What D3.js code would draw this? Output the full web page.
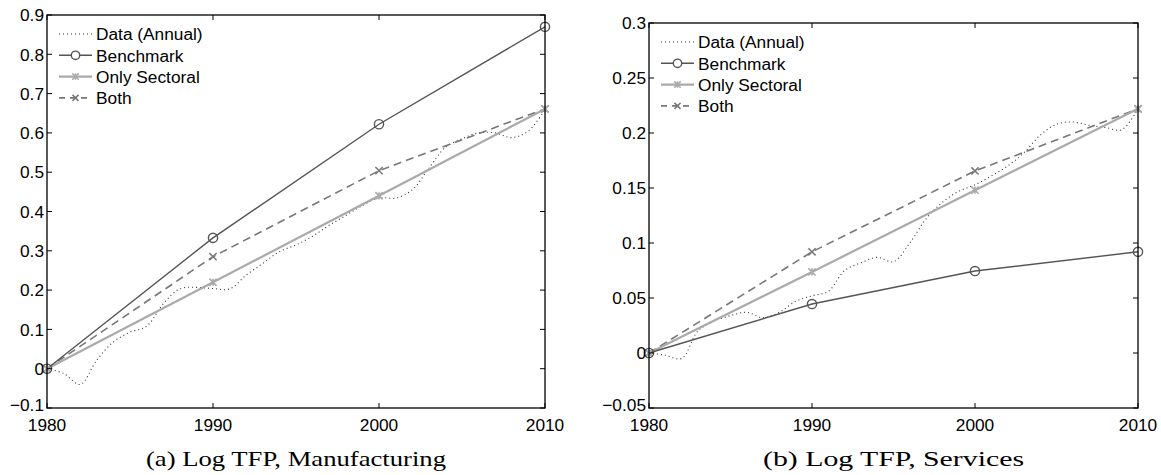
<!DOCTYPE html>
<html><head><meta charset="utf-8">
<script src="https://cdn.jsdelivr.net/npm/d3@7"></script>
<style>
body{margin:0;background:#fff;}
svg text{font-family:"Liberation Sans",Arial,Helvetica,sans-serif;}
</style></head>
<body><svg id="c" width="1161" height="475"></svg>
<script>
// ---------- data ----------
const decades = [1980, 1990, 2000, 2010];
const years = d3.range(1980, 2011);

const mfgAnnual = [0, -0.012, -0.04, 0.022, 0.068, 0.093, 0.108, 0.165, 0.203, 0.207, 0.204,
  0.203, 0.238, 0.268, 0.298, 0.315, 0.337, 0.365, 0.39, 0.415, 0.435,
  0.434, 0.455, 0.51, 0.563, 0.585, 0.6, 0.6, 0.588, 0.605, 0.66];
const mfgBenchmark = [0, 0.333, 0.622, 0.870];
const mfgSectoral = [0, 0.220, 0.440, 0.661];
const mfgBoth = [0, 0.285, 0.504, 0.661];

const svcAnnual = [0, -0.002, -0.005, 0.02, 0.029, 0.034, 0.037, 0.032, 0.037, 0.047, 0.052,
  0.056, 0.075, 0.082, 0.087, 0.083, 0.1, 0.122, 0.137, 0.147, 0.153,
  0.161, 0.17, 0.182, 0.198, 0.208, 0.21, 0.207, 0.205, 0.203, 0.222];
const svcBenchmark = [0, 0.0445, 0.0745, 0.092];
const svcSectoral = [0, 0.0737, 0.148, 0.222];
const svcBoth = [0, 0.092, 0.1655, 0.222];

const mfgYTicks = [-0.1, 0, 0.1, 0.2, 0.3, 0.4, 0.5, 0.6, 0.7, 0.8, 0.9];
const svcYTicks = [-0.05, 0, 0.05, 0.1, 0.15, 0.2, 0.25, 0.3];
const xTicks = [1980, 1990, 2000, 2010];
const legendLabels = ["Data (Annual)", "Benchmark", "Only Sectoral", "Both"];
const captions = ["(a) Log TFP, Manufacturing", "(b) Log TFP, Services"];

// ---------- styles ----------
const st = {
  data: {color: "#333", width: 1.1, dash: "1,3"},
  bench: {color: "#555", width: 1.4, dash: null},
  sect: {color: "#aaa", width: 2.2, dash: null},
  both: {color: "#777", width: 1.6, dash: "8,5"}
};
const FS = 17.3;

const svg = d3.select("#c");

function fmt(v) {
  if (Math.abs(v) < 1e-9) return "0";
  let s = String(+v.toFixed(2));
  return s.replace("-", "\u2212");
}

function panel(cfg) {
  const x = d3.scaleLinear().domain([1980, 2010]).range([cfg.x0, cfg.x1]);
  const y = d3.scaleLinear().domain(cfg.ydom).range([cfg.y1, cfg.y0]);
  const g = svg.append("g");
  const tl = 5;

  const line = d3.line().x(d => x(d[0])).y(d => y(d[1]));
  const smooth = d3.line().x(d => x(d[0])).y(d => y(d[1])).curve(d3.curveCatmullRom);

  function draw(gen, pts, s) {
    g.append("path").attr("d", gen(pts)).attr("fill", "none")
      .attr("stroke", s.color).attr("stroke-width", s.width)
      .attr("stroke-dasharray", s.dash);
  }
  draw(smooth, years.map((yr, i) => [yr, cfg.annual[i]]), st.data);
  draw(line, decades.map((d, i) => [d, cfg.both[i]]), st.both);
  draw(line, decades.map((d, i) => [d, cfg.sect[i]]), st.sect);
  draw(line, decades.map((d, i) => [d, cfg.bench[i]]), st.bench);

  function xmark(cx, cy, color, w, r) {
    g.append("path").attr("d", `M${cx-r},${cy-r}L${cx+r},${cy+r}M${cx-r},${cy+r}L${cx+r},${cy-r}`)
      .attr("stroke", color).attr("stroke-width", w).attr("fill", "none");
  }
  function star(cx, cy, color, w, r) {
    xmark(cx, cy, color, w, r);
    g.append("path").attr("d", `M${cx},${cy-r}L${cx},${cy+r}`)
      .attr("stroke", color).attr("stroke-width", w);
  }
  decades.forEach((d, i) => {
    xmark(x(d), y(cfg.both[i]), st.both.color, 1.5, 3.6);
    star(x(d), y(cfg.sect[i]), st.sect.color, 1.6, 3.6);
    g.append("circle").attr("cx", x(d)).attr("cy", y(cfg.bench[i])).attr("r", 4.6)
      .attr("fill", "none").attr("stroke", st.bench.color).attr("stroke-width", 1.4);
  });

  // frame
  g.append("rect").attr("x", cfg.x0).attr("y", cfg.y0)
    .attr("width", cfg.x1 - cfg.x0).attr("height", cfg.y1 - cfg.y0)
    .attr("fill", "none").attr("stroke", "#000").attr("stroke-width", 1.3);

  cfg.yticks.forEach((v, k) => {
    const yy = y(v);
    g.append("line").attr("x1", cfg.x0).attr("x2", cfg.x0 + tl).attr("y1", yy).attr("y2", yy).attr("stroke", "#000");
    g.append("line").attr("x1", cfg.x1).attr("x2", cfg.x1 - tl).attr("y1", yy).attr("y2", yy).attr("stroke", "#000");
    g.append("text").attr("x", cfg.x0 - 3).attr("y", yy - (k === 0 ? 3.5 : 0)).attr("dy", "0.36em")
      .attr("text-anchor", "end").attr("font-size", FS).text(fmt(v));
  });
  xTicks.forEach(v => {
    const xx = x(v);
    g.append("line").attr("x1", xx).attr("x2", xx).attr("y1", cfg.y1).attr("y2", cfg.y1 - tl).attr("stroke", "#000");
    g.append("line").attr("x1", xx).attr("x2", xx).attr("y1", cfg.y0).attr("y2", cfg.y0 + tl).attr("stroke", "#000");
    g.append("text").attr("x", xx).attr("y", cfg.y1 + 22.5)
      .attr("text-anchor", "middle").attr("font-size", FS).text(v);
  });

  const lstyles = [st.data, st.bench, st.sect, st.both];
  legendLabels.forEach((lab, i) => {
    const ly = cfg.ly + i * 21.3;
    const s = lstyles[i];
    const lx0 = cfg.lx, lx1 = cfg.lx + 33;
    g.append("line").attr("x1", lx0).attr("x2", lx1).attr("y1", ly).attr("y2", ly)
      .attr("stroke", s.color).attr("stroke-width", s.width).attr("stroke-dasharray", i === 3 ? "6,5" : s.dash);
    const mx = (lx0 + lx1) / 2;
    if (i === 1) g.append("circle").attr("cx", mx).attr("cy", ly).attr("r", 4.2).attr("fill", "#fff")
      .attr("stroke", s.color).attr("stroke-width", 1.4);
    if (i === 2) star(mx, ly, s.color, 1.6, 3.2);
    if (i === 3) xmark(mx, ly, s.color, 1.5, 3);
    g.append("text").attr("x", lx1 + 4).attr("y", ly).attr("dy", "0.36em")
      .attr("font-size", FS).text(lab);
  });

  g.append("text").attr("x", (cfg.x0 + cfg.x1) / 2).attr("y", 466)
    .attr("text-anchor", "middle").attr("font-size", 21.5)
    .attr("textLength", cfg.capw).attr("lengthAdjust", "spacingAndGlyphs")
    .style("font-family", "'Liberation Serif','DejaVu Serif',serif")
    .text(cfg.caption);
}

panel({x0: 47, x1: 545, y0: 15, y1: 408, ydom: [-0.1, 0.9], yticks: mfgYTicks,
  annual: mfgAnnual, bench: mfgBenchmark, sect: mfgSectoral, both: mfgBoth,
  lx: 59, ly: 34, caption: captions[0], capw: 300});
panel({x0: 649, x1: 1138, y0: 23, y1: 408, ydom: [-0.05, 0.3], yticks: svcYTicks,
  annual: svcAnnual, bench: svcBenchmark, sect: svcSectoral, both: svcBoth,
  lx: 661, ly: 42, caption: captions[1], capw: 261});
</script></body></html>
